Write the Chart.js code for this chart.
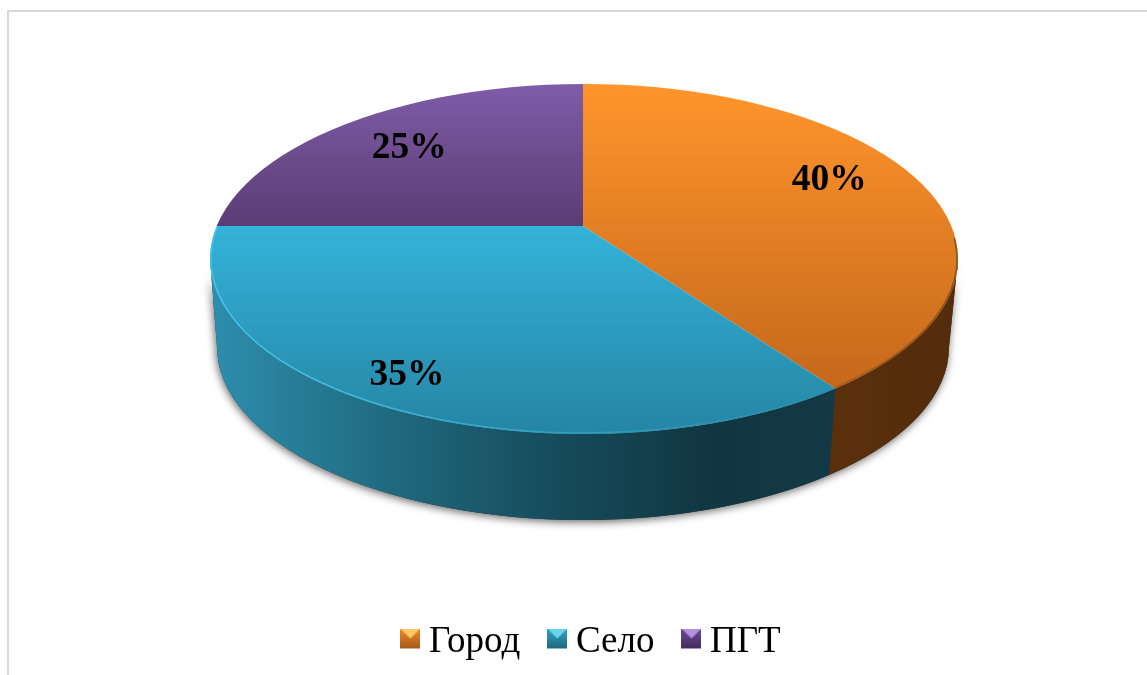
<!DOCTYPE html>
<html>
<head>
<meta charset="utf-8">
<script src="https://cdn.jsdelivr.net/npm/chart.js@4"></script>
<style>
    html, body { margin: 0; padding: 0; background: #fff; overflow: hidden; }
    #frame { position: absolute; left: 7px; top: 10px; width: 1200px; height: 800px; border-top: 2px solid #d9d9d9; border-left: 2px solid #d9d9d9; }
    #chart { position: absolute; left: 0; top: 0; display: block; }
</style>
</head>
<body>
<div id="frame"></div>
<canvas id="chart" width="1147" height="675"></canvas>
<script>
const categories = ['Город', 'Село', 'ПГТ'];
const shares = [40, 35, 25];

// top face gradient, top to bottom of each slice
const faceColors = [['#ff952b', '#c5681c'], ['#34b2d9', '#2585a4'], ['#7f5ca8', '#5b3c74']];
// wall gradients, left to right, evenly spaced stops
const wallColors = [['#5a300c', '#542c0c'], ['#2d8eae', '#24758d', '#1b5c6f', '#154756', '#113641', '#123945'], ['#5b3c74', '#3a2550']];
// rim bevel, left to right
const rimColors = [['rgba(110,66,20,0.35)', 'rgba(110,66,20,0.75)'], ['#3fc3e8', 'rgba(63,195,232,0)'], null];
const iconColors = [['#ffc866', '#f08a28', '#a85a18'], ['#66d4ec', '#30a4c4', '#1f6a80'], ['#b690e0', '#6c4a94', '#452c60']];
const labelNudge = [[1, -8], [1, -13], [1, 4]];
const labelRadius = [258, 390, 247];

// pie drawn flat by Chart.js, then squashed around the apex; ellipses are the visible outline
const view = {
    apexX: 583, apexY: 226, squash: 0.468, flatRadius: 480,
    top: { x: 584, y: 259, rx: 374, ry: 175 },
    bottom: { x: 583, y: 347, rx: 366, ry: 173 }
};

function sliceRange(arc) {
    // angle on the top ellipse where a slice edge hits the rim
    function rimAngle(a) {
        const cx = view.top.x - view.apexX, cy = (view.top.y - view.apexY) / view.squash;
        const ux = Math.cos(a), uy = Math.sin(a);
        const d = ux * cx + uy * cy;
        const r = d + Math.sqrt(d * d - cx * cx - cy * cy + view.top.rx * view.top.rx);
        return Math.atan2(r * uy - cy, r * ux - cx);
    }
    let from = rimAngle(arc.startAngle), to = rimAngle(arc.endAngle);
    if (to < from) {
        if (from > Math.PI / 2) from -= 2 * Math.PI; else to += 2 * Math.PI;
    }
    return [from, to];
}

function wallPath(ctx, from, to) {
    ctx.beginPath();
    ctx.ellipse(view.top.x, view.top.y, view.top.rx, view.top.ry, 0, from, to);
    ctx.ellipse(view.bottom.x, view.bottom.y, view.bottom.rx, view.bottom.ry, 0, to, from, true);
    ctx.closePath();
}

function makeIcon(colors) {
    const size = 20;
    const icon = document.createElement('canvas');
    icon.width = size;
    // taller than the marker so it sits a little above the legend's centre line
    icon.height = size + 8;
    const c = icon.getContext('2d');
    const body = c.createLinearGradient(0, 0, 0, size);
    body.addColorStop(0, colors[1]);
    body.addColorStop(1, colors[2]);
    c.fillStyle = body;
    c.fillRect(0, 0, size, size);
    c.fillStyle = colors[0];
    c.beginPath();
    c.moveTo(0, 0);
    c.lineTo(size, 0);
    c.lineTo(size / 2, size / 2);
    c.closePath();
    c.fill();
    c.fillStyle = colors[2];
    c.fillRect(0, size - 2, size, 2);
    return icon;
}

const icons = iconColors.map(makeIcon);

const pie3d = {
    id: 'pie3d',
    beforeDatasetsDraw(chart) {
        const ctx = chart.ctx;
        const arcs = chart.getDatasetMeta(0).data;
        const scale = view.flatRadius / arcs[0].outerRadius;
        const scaleY = scale * view.squash;

        // walls, only the front half of the rim shows
        ctx.save();
        ctx.shadowColor = 'rgba(0,0,0,0.6)';
        ctx.shadowBlur = 9;
        ctx.shadowOffsetX = -1;
        ctx.shadowOffsetY = 2;
        wallPath(ctx, 0, Math.PI);
        ctx.fillStyle = '#333';
        ctx.fill();
        ctx.restore();

        arcs.forEach(function(arc, i) {
            const range = sliceRange(arc);
            const from = Math.max(range[0], 0), to = Math.min(range[1], Math.PI);
            if (to <= from) return;
            const left = view.top.x + view.top.rx * Math.cos(to);
            const right = view.top.x + view.top.rx * Math.cos(from);
            const fill = ctx.createLinearGradient(left, 0, right, 0);
            wallColors[i].forEach(function(color, n) {
                fill.addColorStop(n / (wallColors[i].length - 1), color);
            });
            ctx.fillStyle = fill;
            wallPath(ctx, from, to);
            ctx.fill();
        });

        // top face gradients, in the chart's own coordinates
        arcs.forEach(function(arc, i) {
            const range = sliceRange(arc);
            let high = Infinity, low = -Infinity;
            for (let step = 0; step <= 60; step++) {
                const t = range[0] + (range[1] - range[0]) * step / 60;
                const y = view.top.y + view.top.ry * Math.sin(t);
                high = Math.min(high, y);
                low = Math.max(low, y);
            }
            high = Math.min(high, view.apexY);
            low = Math.max(low, view.apexY);
            const y0 = arc.y + (high - view.apexY) / scaleY;
            const y1 = arc.y + (low - view.apexY) / scaleY;
            const fill = ctx.createLinearGradient(0, y0, 0, y1);
            fill.addColorStop(0, faceColors[i][0]);
            fill.addColorStop(1, faceColors[i][1]);
            arc.options = Object.assign({}, arc.options, { backgroundColor: fill });
        });

        ctx.save();
        ctx.beginPath();
        ctx.ellipse(view.top.x, view.top.y, view.top.rx, view.top.ry, 0, 0, Math.PI * 2);
        ctx.clip();
        ctx.translate(view.apexX, view.apexY);
        ctx.scale(scale, scaleY);
        ctx.translate(-arcs[0].x, -arcs[0].y);
    },
    afterDatasetsDraw(chart) {
        const ctx = chart.ctx;
        const arcs = chart.getDatasetMeta(0).data;
        ctx.restore();

        // thin bevel along the rim
        arcs.forEach(function(arc, i) {
            if (!rimColors[i]) return;
            const range = sliceRange(arc);
            const from = Math.max(range[0], -0.12), to = range[1];
            const left = view.top.x + view.top.rx * Math.cos(Math.min(to, Math.PI));
            const right = view.top.x + view.top.rx * Math.cos(Math.max(from, 0));
            const stroke = ctx.createLinearGradient(left, 0, right, 0);
            stroke.addColorStop(0, rimColors[i][0]);
            stroke.addColorStop(1, rimColors[i][1]);
            ctx.save();
            ctx.strokeStyle = stroke;
            ctx.lineWidth = 1.6;
            ctx.beginPath();
            ctx.ellipse(view.top.x, view.top.y, view.top.rx - 1, view.top.ry - 1, 0, from, to);
            ctx.stroke();
            ctx.restore();
        });

        // value labels
        ctx.save();
        ctx.font = 'bold 37.5px "Liberation Serif"';
        ctx.fillStyle = '#000';
        ctx.textAlign = 'center';
        ctx.textBaseline = 'middle';
        arcs.forEach(function(arc, i) {
            const mid = (arc.startAngle + arc.endAngle) / 2;
            const x = view.apexX + labelRadius[i] * Math.cos(mid) + labelNudge[i][0];
            const y = view.apexY + labelRadius[i] * Math.sin(mid) * view.squash + labelNudge[i][1];
            ctx.fillText(shares[i] + '%', x, y);
        });
        ctx.restore();
    }
};

new Chart(document.getElementById('chart'), {
    type: 'pie',
    data: {
        labels: categories,
        datasets: [{
            data: shares,
            backgroundColor: faceColors.map(c => c[0]),
            borderWidth: 0,
            clip: false
        }]
    },
    options: {
        responsive: false,
        animation: false,
        events: [],
        layout: { padding: { bottom: 4, left: 44 } },
        plugins: {
            tooltip: { enabled: false },
            legend: {
                display: true,
                position: 'bottom',
                labels: {
                    usePointStyle: true,
                    pointStyleWidth: 0.1,
                    padding: 37,
                    color: '#000',
                    font: { family: '"Liberation Serif"', size: 37 },
                    generateLabels: function() {
                        return categories.map(function(text, i) {
                            return { text: text, pointStyle: icons[i], fontColor: '#000', lineWidth: 0, hidden: false, index: i };
                        });
                    }
                }
            }
        }
    },
    plugins: [pie3d]
});
</script>
</body>
</html>
